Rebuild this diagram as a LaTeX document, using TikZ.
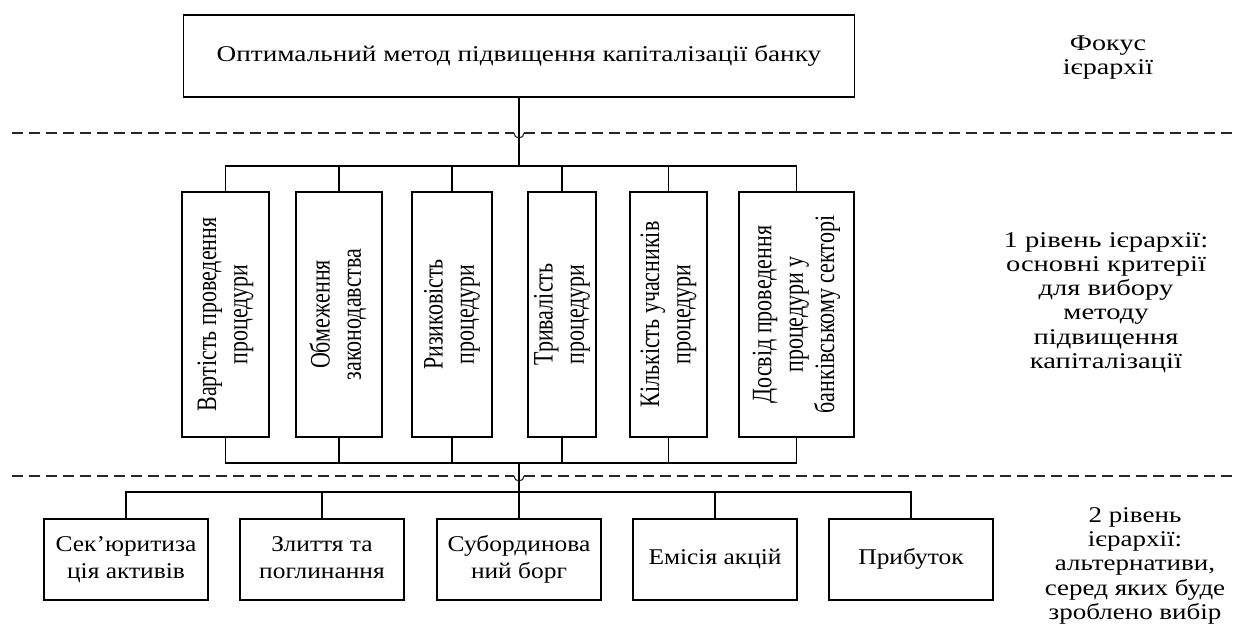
\documentclass[tikz,border=0pt]{standalone}
\usepackage{fontspec}
\setmainfont{Liberation Serif}
\usepackage{graphicx}
% horizontal multi-line label, widened by #1
\newcommand{\htxt}[2]{\scalebox{#1}[1]{\begin{tabular}{@{}c@{}}#2\end{tabular}}}
% vertical (bottom-to-top) multi-line label
\newcommand{\vtxt}[1]{\scalebox{1.28}[1]{\rotatebox{90}{\begin{tabular}{@{}c@{}}#1\end{tabular}}}}
\begin{document}
\begin{tikzpicture}[x=1pt,y=-1pt,
  every node/.style={font=\fontsize{22.5}{25}\selectfont, inner sep=0pt},
  box/.style={draw, line width=1.1pt, rectangle, align=center},
  crit/.style={box, minimum width=#1, minimum height=245, font=\fontsize{22}{24.5}\selectfont},
  alt/.style={box, minimum width=164, minimum height=81, font=\fontsize{22.5}{27}\selectfont},
  side/.style={align=center, font=\fontsize{22.5}{24.2}\selectfont},
  wire/.style={line width=1.1pt},
  dashline/.style={line width=1.1pt, dash pattern=on 11pt off 6pt, black!85}
]
\useasboundingbox (0,0) rectangle (1235,625);

% goal
\node[box, minimum width=671, minimum height=82] (top) at (519,56)
  {\htxt{1.21}{Оптимальний метод підвищення капіталізації банку}};

% criteria
\node[crit=87] (c1) at (225.5,314.5) {\vtxt{Вартість проведення\\процедури}};
\node[crit=86] (c2) at (339,314.5)   {\vtxt{Обмеження\\законодавства}};
\node[crit=80] (c3) at (452,314.5)   {\vtxt{Ризиковість\\процедури}};
\node[crit=68] (c4) at (562,314.5)   {\vtxt{Тривалість\\процедури}};
\node[crit=77] (c5) at (668.5,314.5) {\vtxt{Кількість учасників\\процедури}};
\node[crit=115] (c6) at (796.5,314.5) {\vtxt{Досвід проведення\\процедури у\\банківському секторі}};

% alternatives
\node[alt] (a1) at (126,559.5) {\htxt{1.13}{Сек’юритиза\\ція активів}};
\node[alt] (a2) at (322,559.5) {\htxt{1.13}{Злиття та\\поглинання}};
\node[alt] (a3) at (519,559.5) {\htxt{1.13}{Субординова\\ний борг}};
\node[alt] (a4) at (715,559.5) {\htxt{1.13}{Емісія акцій}};
\node[alt] (a5) at (911,559.5) {\htxt{1.13}{Прибуток}};

% level captions
\node[side] (lf) at (1108,58) {\htxt{1.25}{Фокус\\ієрархії}};
\node[side] (l1) at (1106,303) {\htxt{1.27}{1 рівень ієрархії:\\основні критерії\\для вибору\\методу\\підвищення\\капіталізації}};
\node[side] (l2) at (1135,566) {\htxt{1.2}{2 рівень\\ієрархії:\\альтернативи,\\серед яких буде\\зроблено вибір}};

% bus points
\coordinate (busT) at (519,166);
\coordinate (busB) at (519,463);
\coordinate (busA) at (519,492);

% level separators with hops over the central connector
\draw[dashline] (12,133) -- (514,133);
\draw[dashline] (524,133) -- (1235,133);
\draw[wire, black!85] (514,133) arc[start angle=180, end angle=0, radius=5];
\draw[dashline] (12,476) -- (514,476);
\draw[dashline] (524,476) -- (1235,476);
\draw[wire, black!85] (514,476) arc[start angle=180, end angle=0, radius=5];

% goal to criteria
\draw[wire] (top.south) -- (busT);
\draw[wire] (c1.north) |- (busT) -| (c6.north);
\foreach \n in {c2,c3,c4,c5} \draw[wire] (\n.north) -- (\n.north |- busT);

% criteria to alternatives
\draw[wire] (c1.south) |- (busB) -| (c6.south);
\foreach \n in {c2,c3,c4,c5} \draw[wire] (\n.south) -- (\n.south |- busB);
\draw[wire] (busB) -- (a3.north);
\draw[wire] (a1.north) |- (busA) -| (a5.north);
\foreach \n in {a2,a4} \draw[wire] (\n.north) -- (\n.north |- busA);
\end{tikzpicture}
\end{document}
